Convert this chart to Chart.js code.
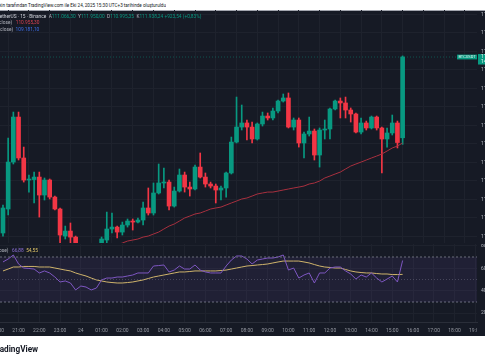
<!DOCTYPE html>
<html>
<head>
<meta charset="utf-8">
<script src="https://cdn.jsdelivr.net/npm/chart.js@4.4.1/dist/chart.umd.min.js"></script>
<style>
  html, body { margin: 0; padding: 0; width: 485px; height: 360px; overflow: hidden; background: #fff; position: relative; font-family: Roboto, "Noto Sans", sans-serif; }
  #pane { position: absolute; left: 0; top: 10px; width: 485px; height: 326px; background: #161a25; border-top: 1px solid #a3a6af; box-sizing: border-box; }
  .box { position: absolute; left: -40px; }
  .t { position: absolute; white-space: nowrap; font-size: 10px; line-height: 10px; transform-origin: 0 0; transform: scale(.48); color: #b2b5be; }
  .g { color: #089981; } .r { color: #d8404f; } .b { color: #3d6ee8; }
  .p { color: #8c6fd6; } .y { color: #e2c768; } .w { color: #d1d4dc; }
</style>
</head>
<body>
<div class="t" style="left:-1px;top:2.7px;transform:scale(.46);color:#131722">kin tarafından TradingView.com ile Eki 24, 2025 15:30 UTC+3 tarihinde oluşturuldu</div>
<div id="pane"></div>
<div class="box" style="top:10px"><canvas id="price" width="580" height="233"></canvas></div>
<div class="box" style="top:244px"><canvas id="rsi" width="580" height="92"></canvas></div>

<div class="t" style="left:-3px;top:13.6px"><span class="w">TetherUS · 15 · Binance</span>&nbsp; A<span class="g">111.066,30</span>&nbsp; Y<span class="g">111.950,00</span>&nbsp; D<span class="g">110.995,35</span>&nbsp; K<span class="g">111.938,24</span> <span class="g">+923,54 (+0,83%)</span></div>
<div class="t" style="left:-1px;top:19.9px">close)&nbsp;&nbsp; <span class="r">110.955,30</span></div>
<div class="t" style="left:0px;top:26.9px">close)&nbsp; <span class="b">109.181,10</span></div>
<div class="t" style="left:-1px;top:247.6px">ose)&nbsp;&nbsp; <span class="p">66,88</span>&nbsp; <span class="y">54,55</span></div>
<div class="t" style="left:-8.5px;top:344.9px;transform:scale(.82);font-weight:bold;color:#131722">TradingView</div>

<script>
// 15 min candles, first visible bar is 20:15 on the 23rd, last one 15:30 on the 24th
const timeLabels = ['20:00', '21:00', '22:00', '23:00', '24', '01:00', '02:00', '03:00', '04:00', '05:00', '06:00', '07:00',
  '08:00', '09:00', '10:00', '11:00', '12:00', '13:00', '14:00', '15:00', '16:00', '17:00', '18:00', '19:00'];

const opens = [110038, 110297, 110804, 111290, 110848, 110610, 110615, 110642, 110448, 110610, 110426, 110297, 110005, 110059,
  109994, 109897, 109832, 109790, 109860, 109876, 109962, 110081, 110102, 110048, 110124, 110167, 110156, 110178, 110308,
  110254, 110470, 110578, 110588, 110329, 110491, 110664, 110534, 110513, 110750, 110642, 110567, 110545, 110502, 110524,
  110686, 111020, 111182, 111226, 111182, 111053, 111215, 111301, 111280, 111355, 111463, 111496, 111182, 111258, 111010,
  111107, 111139, 110880, 111150, 111161, 111377, 111463, 111442, 111366, 111323, 111128, 111226, 111172, 111290, 111172,
  111053, 111118, 111226, 111066.30];
const highs = [110340, 111064, 111344, 111344, 110966, 110664, 110696, 110696, 110632, 110621, 110437, 110308, 110113, 110146,
  110005, 109908, 109860, 109880, 109910, 109995, 110264, 110254, 110113, 110156, 110189, 110189, 110200, 110372, 110524,
  110578, 110783, 110740, 110610, 110534, 110729, 110696, 110588, 110772, 110902, 110686, 110588, 110567, 110545, 110696,
  111074, 111506, 111420, 111258, 111236, 111226, 111344, 111334, 111388, 111474, 111539, 111550, 111280, 111280, 111128,
  111290, 111161, 111172, 111258, 111388, 111474, 111496, 111506, 111388, 111334, 111280, 111247, 111301, 111301, 111182,
  111172, 111312, 111247, 111950.00];
const lows = [110005, 110232, 110783, 110826, 110588, 110480, 110362, 110210, 110394, 110405, 110286, 109930, 109973, 109930,
  109854, 109800, 109768, 109780, 109830, 109850, 109930, 110038, 109984, 110016, 110102, 110070, 110146, 110124, 110232,
  110232, 110459, 110524, 110286, 110318, 110480, 110480, 110437, 110502, 110632, 110534, 110524, 110362, 110394, 110426,
  110675, 111010, 111150, 111042, 111010, 111042, 111193, 111258, 111258, 111334, 111452, 111172, 111150, 110966, 110848,
  111085, 110826, 110750, 111053, 111053, 111366, 111280, 111280, 111236, 111118, 111107, 111150, 111161, 111150, 110686,
  110966, 111096, 110956, 110995.35];
const closes = [110308, 110804, 111290, 110848, 110610, 110615, 110642, 110448, 110610, 110426, 110297, 110016, 110059, 109994,
  109897, 109832, 109790, 109860, 109876, 109973, 110081, 110102, 110048, 110124, 110167, 110156, 110178, 110308, 110254,
  110470, 110578, 110588, 110329, 110491, 110664, 110534, 110513, 110750, 110642, 110567, 110545, 110502, 110524, 110686,
  111020, 111182, 111226, 111182, 111053, 111215, 111301, 111280, 111355, 111463, 111496, 111182, 111258, 111010, 111107,
  111139, 110880, 111150, 111161, 111377, 111463, 111442, 111366, 111323, 111128, 111226, 111172, 111290, 111172, 111053,
  111118, 111226, 111015, 111938.24];

// red moving average on the price pane (starts below the visible range)
const maValues = [null, null, null, null, null, null, null, null, null, null, null, null, null, null, null, null, null, null,
  109860, 109870, 109885, 109897, 109908, 109930, 109951, 109962, 109973, 109994, 110005, 110027, 110048, 110081, 110113,
  110135, 110167, 110200, 110221, 110243, 110254, 110275, 110297, 110308, 110318, 110340, 110362, 110383, 110405, 110416,
  110437, 110459, 110470, 110480, 110480, 110491, 110502, 110513, 110524, 110534, 110545, 110567, 110578, 110599, 110632,
  110653, 110675, 110696, 110729, 110761, 110783, 110804, 110826, 110848, 110869, 110891, 110923, 110956, 110977, 111010];

const rsiValues = [65.6, 68.2, 71.8, 63.8, 60.2, 59.8, 59.3, 55.8, 57.6, 55.8, 52.2, 47.8, 48.7, 46.9, 40.7, 44.2, 43.3, 40.7,
  42.4, 49.6, 51.3, 51.3, 52.2, 52.2, 53.1, 54.0, 55.8, 55.8, 55.8, 62.0, 62.4, 62.9, 56.7, 58.4, 62.0, 59.3, 59.3, 62.9, 58.4,
  56.7, 55.8, 55.8, 55.8, 62.0, 67.3, 70.9, 70.9, 68.2, 63.8, 67.3, 68.2, 69.1, 69.1, 70.0, 71.8, 58.4, 60.2, 51.3, 54.0, 55.8,
  46.9, 55.8, 55.8, 60.2, 61.1, 61.1, 57.6, 54.9, 50.4, 54.0, 52.2, 55.8, 51.3, 47.8, 50.4, 53.1, 47.8, 66.88];
const rsiMaValues = [57.6, 59.3, 61.1, 61.1, 61.6, 61.6, 61.6, 61.1, 61.1, 61.1, 60.2, 59.3, 58.4, 57.6, 55.8, 54.4, 53.1, 51.3,
  49.6, 48.7, 47.8, 47.3, 46.9, 46.9, 47.3, 47.8, 48.7, 49.6, 50.9, 52.2, 53.1, 54.0, 54.9, 55.8, 56.7, 56.7, 57.1, 57.6, 57.6,
  57.6, 57.6, 57.6, 58.0, 58.4, 59.3, 60.2, 61.1, 62.0, 62.4, 62.9, 63.3, 63.8, 64.7, 65.6, 66.4, 66.4, 66.4, 66.4, 65.6, 64.7,
  63.3, 62.0, 61.1, 60.7, 60.2, 60.2, 58.9, 57.6, 56.7, 56.2, 55.8, 55.8, 55.3, 54.9, 54.9, 54.4, 54.4, 54.55];

const rsiLevels = [70, 50, 30];
const rsiTicks = [20, 40, 60, 80];
const priceTicks = [110000, 110200, 110400, 110600, 110800, 111000, 111200, 111400, 111600, 111800, 112000, 112200, 112400];

const GREEN = '#089981';
const RED = '#f23645';
const BG = '#161a25';
const GRID = '#1e222d';
const AXIS_TXT = '#b2b5be';

// visible window in bar units and price/rsi ranges of the two panes
const X_MIN = -8.28, X_MAX = 91.33;
const PRICE_MIN = 109930, PRICE_MAX = 112446;
const RSI_MIN = 12.22, RSI_MAX = 81.56;

Chart.defaults.font.family = 'Roboto, "Noto Sans", sans-serif';
Chart.defaults.font.size = 5;
Chart.defaults.animation = false;

const idx = opens.map((_, i) => i);
const barColors = idx.map(i => closes[i] >= opens[i] ? GREEN : RED);
const lastClose = closes[closes.length - 1];
const hourTicks = timeLabels.map((_, k) => ({ value: 4 * k - 1 }));

function trNum(v) {
    const parts = v.toFixed(2).split('.');
    return parts[0].replace(/\B(?=(\d{3})+(?!\d))/g, '.') + ',' + parts[1];
}

const flatPad = s => { s.paddingLeft = 0; s.paddingRight = 0; s.paddingTop = 0; s.paddingBottom = 0; };

// label on the price axis + symbol tag at the last close
const priceTag = {
    id: 'priceTag',
    afterDraw(chart) {
        const { ctx, chartArea, scales } = chart;
        const py = scales.y.getPixelForValue(lastClose);
        ctx.save();
        ctx.fillStyle = GREEN;
        ctx.fillRect(chartArea.right + 1, py - 3, chart.width - chartArea.right, 10.5);
        ctx.fillRect(chartArea.right - 20, py - 2.4, 20, 4.8);
        ctx.fillStyle = '#e8f5f2';
        ctx.textBaseline = 'middle';
        ctx.font = '4px Roboto';
        ctx.fillText('BTCUSDT', chartArea.right - 18.6, py);
        ctx.font = '5px Roboto';
        ctx.fillText(trNum(lastClose), chartArea.right + 4, py);
        ctx.fillText('14:29', chartArea.right + 4, py + 5.2);
        ctx.restore();
    }
};

new Chart(document.getElementById('price'), {
    type: 'bar',
    data: {
        datasets: [
            {
                type: 'line', data: idx.map(i => ({ x: i, y: maValues[i] })),
                borderColor: '#a8303f', borderWidth: 1, pointRadius: 0, order: 0
            },
            {
                type: 'line', data: [{ x: X_MIN, y: lastClose }, { x: X_MAX, y: lastClose }],
                borderColor: 'rgba(8,153,129,0.45)', borderWidth: 1, borderDash: [1, 2], pointRadius: 0, order: 3
            },
            {
                data: idx.map(i => ({ x: i, y: [opens[i], closes[i]] })),
                backgroundColor: barColors, barThickness: 4, minBarLength: 1, grouped: false, order: 1
            },
            {
                data: idx.map(i => ({ x: i, y: [lows[i], highs[i]] })),
                backgroundColor: barColors, barThickness: 1, grouped: false, order: 2
            }
        ]
    },
    options: {
        responsive: false,
        layout: { padding: 0 },
        plugins: { legend: { display: false }, tooltip: { enabled: false } },
        scales: {
            x: {
                type: 'linear', min: X_MIN, max: X_MAX, offset: false,
                afterBuildTicks: s => { s.ticks = hourTicks.map(t => ({ ...t })); },
                afterFit: s => { s.height = 0; flatPad(s); },
                ticks: { display: false },
                grid: { color: GRID, drawTicks: false },
                border: { display: true, color: '#2a2e39', width: 1 }
            },
            y: {
                position: 'right', min: PRICE_MIN, max: PRICE_MAX,
                afterBuildTicks: s => { s.ticks = priceTicks.map(v => ({ value: v })); },
                afterFit: s => { s.width = 63; flatPad(s); },
                ticks: { color: AXIS_TXT, padding: 4, callback: v => trNum(v) },
                grid: { color: GRID, drawTicks: false },
                border: { display: false }
            }
        }
    },
    plugins: [priceTag]
});

// covers the corner under the price axis
const corner = {
    id: 'corner',
    afterDraw(chart) {
        const { ctx, chartArea } = chart;
        ctx.save();
        ctx.fillStyle = BG;
        ctx.fillRect(chartArea.right, chartArea.bottom + 1, chart.width - chartArea.right, chart.height - chartArea.bottom);
        ctx.restore();
    }
};

const levelLine = (v, dash, color, extra) => Object.assign({
    data: [{ x: X_MIN, y: v }, { x: X_MAX, y: v }],
    borderColor: color, borderWidth: 1, borderDash: dash, pointRadius: 0, fill: false
}, extra);

new Chart(document.getElementById('rsi'), {
    type: 'line',
    data: {
        datasets: [
            levelLine(rsiLevels[0], [2, 2], '#6b6e7c', { fill: '+1', backgroundColor: 'rgba(126,87,194,0.1)' }),
            levelLine(rsiLevels[2], [2, 2], '#6b6e7c'),
            levelLine(rsiLevels[1], [1, 2], 'rgba(120,123,134,0.45)'),
            {
                data: idx.map(i => ({ x: i, y: rsiValues[i] })),
                borderColor: '#7e57c2', borderWidth: 1, pointRadius: 0, fill: false
            },
            {
                data: idx.map(i => ({ x: i, y: rsiMaValues[i] })),
                borderColor: '#d9bf62', borderWidth: 1, pointRadius: 0, fill: false
            }
        ]
    },
    options: {
        responsive: false,
        layout: { padding: 0 },
        plugins: { legend: { display: false }, tooltip: { enabled: false } },
        scales: {
            x: {
                type: 'linear', min: X_MIN, max: X_MAX,
                afterBuildTicks: s => { s.ticks = hourTicks.map(t => ({ ...t })); },
                afterFit: s => { s.height = 14; flatPad(s); },
                ticks: {
                    color: '#9598a1', padding: 6, autoSkip: false, maxRotation: 0,
                    callback: (v, i) => timeLabels[i]
                },
                grid: { color: GRID, drawTicks: false },
                border: { display: true, color: '#2a2e39', width: 1 }
            },
            y: {
                position: 'right', min: RSI_MIN, max: RSI_MAX,
                afterBuildTicks: s => { s.ticks = rsiTicks.map(v => ({ value: v })); },
                afterFit: s => { s.width = 63; flatPad(s); },
                ticks: { color: AXIS_TXT, padding: 4, callback: v => trNum(v) },
                grid: { color: GRID, drawTicks: false },
                border: { display: false }
            }
        }
    },
    plugins: [corner]
});
</script>
</body>
</html>
